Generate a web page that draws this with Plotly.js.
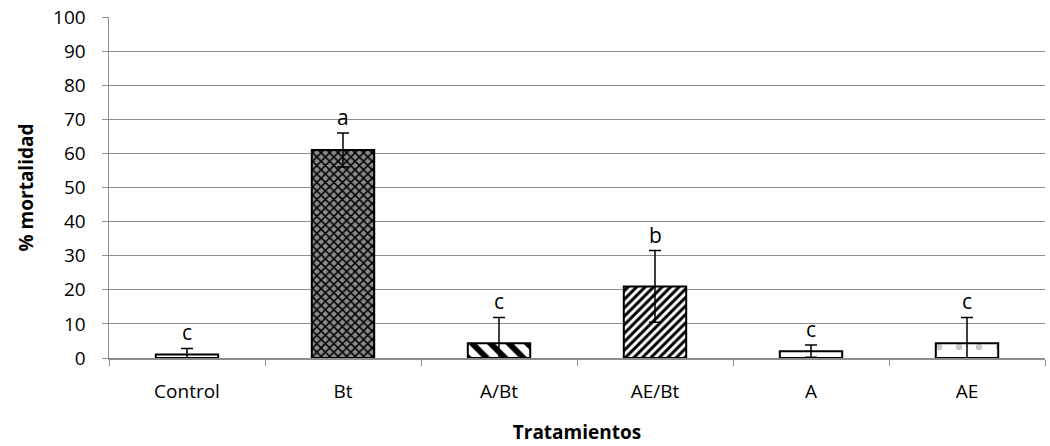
<!DOCTYPE html>
<html>
<head>
<meta charset="utf-8">
<script src="https://cdn.plot.ly/plotly-3.0.1.min.js"></script>
<style>html,body{margin:0;padding:0;background:#fff;}#chart{width:1050px;height:446px;}</style>
</head>
<body>
<div id="chart"></div>
<script>
const categories = ["Control", "Bt", "A/Bt", "AE/Bt", "A", "AE"];
const mortality = [1, 61, 4.3, 21, 2, 4.3];
const errors = [1.8, 5, 7.6, 10.5, 1.8, 7.6];
const letters = ["c", "a", "c", "b", "c", "c"];

const FONT = "Open Sans, Noto Sans, sans-serif";

// per-bar fill styles (appearance only)
const styles = [
  {color: "#ffffff", shape: "", fg: "#000000", bg: "#ffffff", size: 8, sol: 0.3},
  {color: "#8a8a8a", shape: "x", fg: "#000000", bg: "#8a8a8a", size: 6, sol: 0.45},
  {color: "#ffffff", shape: "\\", fg: "#000000", bg: "#ffffff", size: 13, sol: 0.45},
  {color: "#ffffff", shape: "/", fg: "#000000", bg: "#ffffff", size: 6, sol: 0.5},
  {color: "#ffffff", shape: ".", fg: "#c8c8c8", bg: "#ffffff", size: 20, sol: 0.08},
  {color: "#ffffff", shape: ".", fg: "#c8c8c8", bg: "#ffffff", size: 20, sol: 0.08}
];

const traces = categories.map((c, i) => {
  const s = styles[i];
  const marker = {color: s.color, line: {color: "#000000", width: 2}};
  if (s.shape) {
    marker.pattern = {shape: s.shape, fgcolor: s.fg, bgcolor: s.bg, size: s.size, solidity: s.sol, fillmode: "replace"};
  }
  return {
    type: "bar",
    x: [c],
    y: [mortality[i]],
    width: 0.4,
    marker: marker,
    error_y: {type: "data", array: [errors[i]], visible: true, color: "#000", thickness: 1.5, width: 6},
    hoverinfo: "x+y"
  };
});

const annotations = categories.map((c, i) => ({
  x: c,
  y: mortality[i] + errors[i],
  text: letters[i],
  showarrow: false,
  yanchor: "bottom",
  yshift: 0,
  font: {family: FONT, size: 21, color: "#000"}
}));

const layout = {
  width: 1050,
  height: 446,
  margin: {l: 109, r: 5, t: 17, b: 88},
  paper_bgcolor: "#fff",
  plot_bgcolor: "#fff",
  showlegend: false,
  barmode: "overlay",
  font: {family: FONT, size: 20, color: "#000"},
  xaxis: {
    type: "category",
    categoryorder: "array",
    categoryarray: categories,
    showline: true,
    linecolor: "#8c8c8c",
    linewidth: 1.5,
    ticks: "outside",
    tickson: "boundaries",
    ticklen: 6,
    tickcolor: "#8c8c8c",
    ticklabelstandoff: 16,
    tickfont: {family: FONT, size: 19, color: "#000"},
    title: {text: "<b>Tratamientos</b>", font: {family: FONT, size: 19, color: "#000"}, standoff: 22}
  },
  yaxis: {
    range: [0, 100],
    dtick: 10,
    showgrid: true,
    gridcolor: "#8c8c8c",
    gridwidth: 1.2,
    showline: true,
    linecolor: "#8c8c8c",
    linewidth: 1.5,
    ticks: "outside",
    ticklen: 6,
    tickcolor: "#8c8c8c",
    ticklabelstandoff: 12,
    zeroline: false,
    tickfont: {family: FONT, size: 19, color: "#000"},
    title: {text: "<b>% mortalidad</b>", font: {family: FONT, size: 19, color: "#000"}, standoff: 14}
  },
  annotations: annotations
};

Plotly.newPlot("chart", traces, layout, {displayModeBar: false, staticPlot: true});
</script>
</body>
</html>
